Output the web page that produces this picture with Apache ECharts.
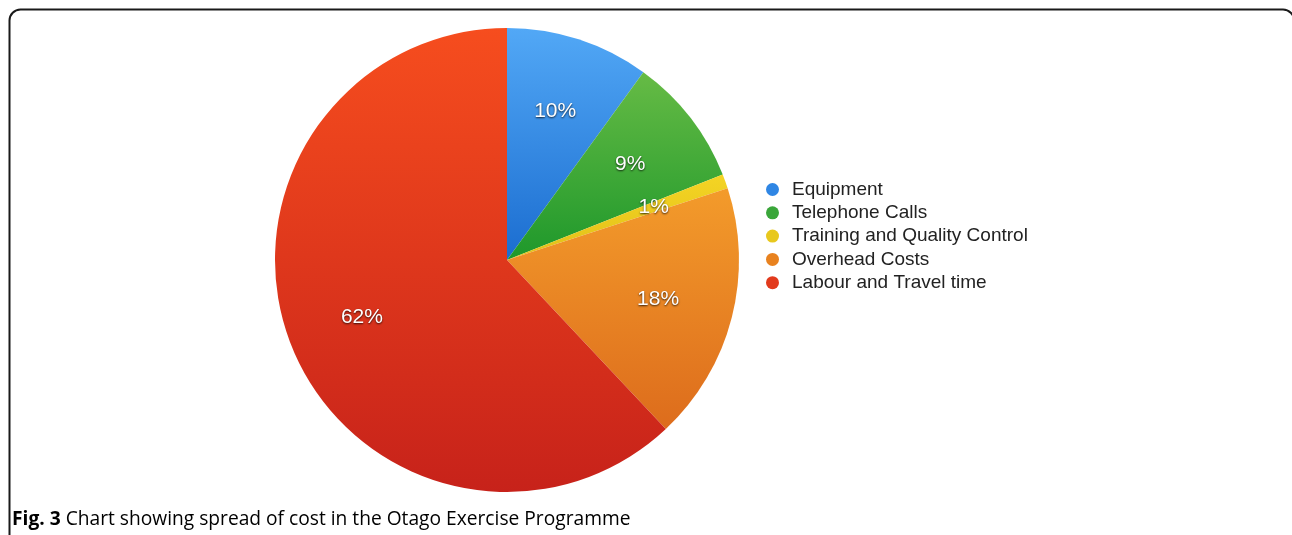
<!DOCTYPE html>
<html>
<head>
<meta charset="utf-8">
<script src="https://cdn.jsdelivr.net/npm/echarts@6/dist/echarts.min.js"></script>
<style>
html,body{margin:0;padding:0;background:#fff;}
#chart{width:1292px;height:535px;}
</style>
</head>
<body>
<div id="chart"></div>
<script>
const categories = ['Equipment', 'Telephone Calls', 'Training and Quality Control', 'Overhead Costs', 'Labour and Travel time'];
const values = [10, 9, 1, 18, 62];
const labels = ['10%', '9%', '1%', '18%', '62%'];
const topColors = ['#52a8f6', '#66bb45', '#f4d424', '#f39b2b', '#f64d1e'];
const bottomColors = ['#1b6dd0', '#1e982b', '#e2c018', '#dd6c1c', '#c7221a'];
const legendColors = ['#2f86e4', '#3aa63a', '#e8c81e', '#e8821f', '#e23a1c'];
const captionBold = 'Fig. 3';
const captionText = ' Chart showing spread of cost in the Otago Exercise Programme';

const chart = echarts.init(document.getElementById('chart'));

const pieData = categories.map((name, i) => ({
  name: name,
  value: values[i],
  itemStyle: {
    color: new echarts.graphic.LinearGradient(0, 0, 0, 1, [
      {offset: 0, color: topColors[i]},
      {offset: 1, color: bottomColors[i]}
    ])
  }
}));

const labelData = categories.map((name, i) => ({
  name: name,
  value: values[i],
  label: {formatter: labels[i]}
}));

chart.setOption({
  animation: false,
  legend: {
    orient: 'vertical',
    left: 761,
    top: 175,
    icon: 'circle',
    itemWidth: 13,
    itemHeight: 13,
    itemGap: 4.3,
    selectedMode: false,
    data: categories.map((name, i) => ({name: name, itemStyle: {color: legendColors[i]}})),
    textStyle: {
      fontFamily: 'Liberation Sans, Arial, sans-serif',
      fontSize: 19,
      lineHeight: 19,
      color: '#222',
      padding: [0, 0, 0, 8]
    }
  },
  graphic: [
    {
      type: 'rect',
      shape: {x: 9.5, y: 9.5, width: 1284.5, height: 600, r: 11},
      style: {fill: 'none', stroke: '#1a1a1a', lineWidth: 2},
      silent: true,
      z: -1
    },
    {
      type: 'text',
      left: 12,
      top: 510,
      style: {
        text: '{b|' + captionBold + '}' + '{n|' + captionText + '}',
        rich: {
          b: {fontFamily: 'Open Sans', fontWeight: 'bold', fontSize: 19.2, color: '#1a1a1a'},
          n: {fontFamily: 'Open Sans', fontSize: 19.2, color: '#1a1a1a'}
        }
      }
    }
  ],
  series: [
    {
      type: 'pie',
      center: [507, 260],
      radius: [0, 232],
      startAngle: 90,
      clockwise: true,
      silent: true,
      data: pieData,
      label: {show: false},
      labelLine: {show: false}
    },
    {
      type: 'pie',
      center: [507, 260],
      radius: [0, 306],
      startAngle: 90,
      clockwise: true,
      silent: true,
      data: labelData,
      itemStyle: {color: 'rgba(0,0,0,0)'},
      labelLine: {show: false},
      label: {
        show: true,
        position: 'inside',
        fontFamily: 'Liberation Sans, Arial, sans-serif',
        fontSize: 21,
        color: '#fff',
        textBorderWidth: 0,
        textShadowColor: 'rgba(0,0,0,0.8)',
        textShadowBlur: 2,
        textShadowOffsetX: 0,
        textShadowOffsetY: 1
      }
    }
  ]
});
</script>
</body>
</html>
